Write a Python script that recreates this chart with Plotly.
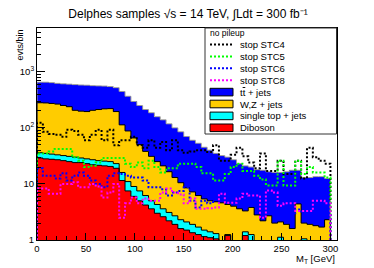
import numpy as np
import plotly.graph_objects as go

# ---------------- data (50 bins of 6 GeV, 0-300 GeV) ----------------
bin_edges = list(range(0, 301, 6))

ttbar_jets = [370, 372, 368, 355, 360, 362, 385, 382, 380, 360,
              348, 337, 325, 325, 332, 277, 229, 200, 174, 155,
              133, 118, 101.5, 87, 74.5, 61.5, 52.8, 46.8, 39.6, 35,
              30.2, 27.4, 25.7, 23, 19.4, 17.7, 16.2, 15.2, 15.3, 13.8,
              14, 13.9, 14.6, 15.9, 13.1, 11, 11.1, 11.7, 11.8, 10.2]
wz_jets = [244, 243, 238, 232, 218, 207, 175, 169, 167, 178,
           186, 192.5, 195, 172, 97, 77, 57, 42.5, 31.8, 26,
           20.7, 17.4, 13.4, 10.3, 8.2, 6.4, 5.3, 4.5, 3.9, 3.6,
           3.5, 3.7, 3.05, 3.2, 2.9, 1.9, 2.55, 2.0, 1.6, 2.0,
           1.4, 0.98, 1.3, 1.1, 3.7, 0.95, 1.4, 1.2, 1.2, 1.7]
single_top = [7, 7, 6.5, 6, 6, 6, 6, 5, 5, 5,
              4.5, 4.5, 4.5, 4, 4.5, 3.5, 3, 2.5, 2.0, 1.4,
              1.3, 1.0, 0.9, 0.8, 0.7, 0.6, 0.55, 0.45, 0.35, 0.3,
              0.25, 0.1, 0.05, 0.2, 0.2, 0.2, 0.75, 0.2, 0.1, 0.2,
              0.2, 0.62, 0.2, 0.1, 0.2, 0.65, 0.2, 0.2, 0.2, 0.2]
diboson = [29, 28, 27.5, 27, 26, 25, 24, 24, 23, 22,
           21.5, 21, 20.5, 19, 11.5, 7.5, 6, 5, 4.2, 3.6,
           3.0, 2.6, 2.2, 1.9, 1.6, 1.5, 1.35, 1.25, 1.15, 1.1,
           1.05, 0.8, 1.2, 0.6, 0.5, 1.2, 0.5, 0.6, 0.5, 0.5,
           0.4, 0.5, 0.4, 0.4, 0.5, 0.4, 0.3, 0.4, 0.3, 0.4]

stop_stc4 = [123, 85, 78, 75, 69, 92, 88, 75, 60, 75,
             92, 60, 92, 49, 60, 60, 69, 49, 44, 60,
             44, 56, 40, 60, 40, 36, 38, 40, 40, 37,
             49, 26, 26, 33, 44, 31, 24, 19, 35, 17,
             17, 26, 15, 15, 26, 12.5, 44, 30, 26, 23]
stop_stc5 = [35, 35, 38, 42, 42, 42, 30, 26, 20, 21,
             24, 29, 29, 29, 29, 23, 20, 24, 19, 26,
             20, 16, 19, 19, 23, 23, 23, 20, 15.5, 15.5,
             11.5, 11.5, 15, 20, 23, 17, 17, 14, 12, 9.4,
             9.4, 26, 9.4, 9.4, 26, 15, 20, 16, 16, 13]
stop_stc6 = [19, 14, 14, 12.5, 15.5, 11.5, 14, 16, 14, 11.5,
             10, 8.7, 14, 15.5, 15, 14, 13, 13, 11.5, 8.7,
             8.7, 8, 6.2, 7, 7.5, 8.7, 5, 3.8, 5, 4.5,
             6, 5, 6, 4.5, 5, 4, 5, 4, 4.5, 3.5,
             4, 3.5, 4, 3, 3.5, 3, 3.5, 3, 2.8, 3]
stop_stc8 = [8.3, 8.3, 6.7, 6.7, 10, 10, 10.7, 8.7, 8.7, 10,
             9, 5.7, 7, 10, 2.5, 4.5, 5.7, 4.5, 5.5, 5,
             5, 7, 8.3, 7, 6.5, 4.5, 5.5, 3.6, 3.6, 3.7,
             3.8, 6.7, 4.6, 4.6, 5.5, 6.7, 6.2, 6.2, 2.5, 7.6,
             7, 4.1, 4.5, 4.5, 3.3, 3.3, 3.3, 5, 5, 4.5]

signal_names = ["stop STC4", "stop STC5", "stop STC6", "stop STC8"]
bkg_names = ["t<span style='text-decoration:overline'>t</span> + jets",
             "W,Z + jets", "single top + jets", "Diboson"]

x_ticks = [0, 50, 100, 150, 200, 250, 300]
y_ticks = [1, 10, 100, 1000]
y_ticktext = ["1", "10", "10<sup>2</sup>", "10<sup>3</sup>"]

# ---------------- layout geometry ----------------
W, H = 374, 268
OFF = 8  # page body offset of the browser
PL, PR, PT, PB = 37, 337, 28, 240  # plot frame in screenshot pixels
FONT = "Liberation Sans, Arial, Helvetica, sans-serif"

def xp(px):
    return (px - PL) / (PR - PL)

def yp(py):
    return (PB - py) / (PB - PT)

centers = [(a + b) / 2 for a, b in zip(bin_edges[:-1], bin_edges[1:])]
widths = [b - a for a, b in zip(bin_edges[:-1], bin_edges[1:])]

cum_d = np.array(diboson, dtype=float)
cum_c = cum_d + np.array(single_top)
cum_o = cum_c + np.array(wz_jets)
cum_t = cum_o + np.array(ttbar_jets)

bkg_colors = ["#0000ff", "#ffcc00", "#00ffff", "#ff0000"]
sig_colors = ["#000000", "#00ff00", "#0000ff", "#ff00ff"]

fig = go.Figure()

for cum, col in zip([cum_t, cum_o, cum_c, cum_d], bkg_colors):
    fig.add_trace(go.Bar(x=centers, y=cum, width=widths,
                         marker=dict(color=col, line=dict(width=0)),
                         showlegend=False, hoverinfo="skip"))

def step(vals):
    xs = [bin_edges[0]] + bin_edges + [bin_edges[-1]]
    ys = [1e-3] + list(vals) + [vals[-1], 1e-3]
    return xs, ys

for cum, col in zip([cum_t, cum_o, cum_c, cum_d], ["#9a9a9a", "#000000", "#000000", "#000000"]):
    xs, ys = step(cum)
    fig.add_trace(go.Scatter(x=xs, y=ys, mode="lines", line=dict(color=col, width=1, shape="hv"),
                             showlegend=False, hoverinfo="skip"))

for vals, col in zip([stop_stc4, stop_stc5, stop_stc6, stop_stc8], sig_colors):
    xs, ys = step(vals)
    fig.add_trace(go.Scatter(x=xs, y=ys, mode="lines",
                             line=dict(color=col, width=2, shape="hv", dash="2px,2px"),
                             showlegend=False, hoverinfo="skip"))

# ---------------- custom ROOT-like legend ----------------
shapes = []
annotations = []
shapes.append(dict(type="rect", xref="paper", yref="paper",
                   x0=xp(205), x1=xp(336.5), y0=yp(134), y1=yp(28),
                   fillcolor="white", line=dict(color="#333333", width=1), layer="above"))
annotations.append(dict(text="no pileup", xref="paper", yref="paper", x=xp(207.5), y=yp(32.5),
                        xanchor="left", yanchor="middle", showarrow=False,
                        font=dict(family=FONT, size=8.5, color="black")))
row_y = [44.5 + 11.9 * i for i in range(8)]
for i, (name, col) in enumerate(zip(signal_names, sig_colors)):
    y = row_y[i]
    shapes.append(dict(type="line", xref="paper", yref="paper", x0=xp(210), x1=xp(233),
                       y0=yp(y), y1=yp(y), line=dict(color=col, width=2, dash="2px,2px"), layer="above"))
    annotations.append(dict(text=name, xref="paper", yref="paper", x=xp(238), y=yp(y),
                            xanchor="left", yanchor="middle", showarrow=False,
                            font=dict(family=FONT, size=9.5, color="black")))
for j, (name, col) in enumerate(zip(bkg_names, bkg_colors)):
    y = row_y[4 + j]
    shapes.append(dict(type="rect", xref="paper", yref="paper", x0=xp(210), x1=xp(233),
                       y0=yp(y + 3.8), y1=yp(y - 3.8), fillcolor=col,
                       line=dict(color="black", width=1), layer="above"))
    annotations.append(dict(text=name, xref="paper", yref="paper", x=xp(238), y=yp(y),
                            xanchor="left", yanchor="middle", showarrow=False,
                            font=dict(family=FONT, size=9.5, color="black")))

annotations.append(dict(text="evts/bin", xref="paper", yref="paper", x=xp(19), y=1.0,
                        xanchor="center", yanchor="top", textangle=-90, showarrow=False,
                        font=dict(family=FONT, size=9, color="black")))
annotations.append(dict(text="M<sub>T</sub> [GeV]", xref="paper", yref="paper", x=1.0, y=yp(259),
                        xanchor="right", yanchor="middle", showarrow=False,
                        font=dict(family=FONT, size=9.5, color="black")))

fig.update_layout(
    width=W, height=H,
    margin=dict(l=PL - OFF, r=W - (PR - OFF), t=PT - OFF, b=H - (PB - OFF), pad=0),
    paper_bgcolor="white", plot_bgcolor="white",
    barmode="overlay", bargap=0,
    showlegend=False,
    font=dict(family=FONT, size=9.5, color="black"),
    title=dict(text="Delphes samples \u221As = 14 TeV, \u222BLdt = 300 fb\u207B\u00B9",
               x=(188 - OFF) / W, xanchor="center", xref="container",
               y=1 - (14 - OFF) / H, yanchor="middle", yref="container",
               font=dict(family=FONT, size=12, color="black")),
    xaxis=dict(range=[0, 306.7], showgrid=False, zeroline=False,
               showline=True, linecolor="black", linewidth=1, mirror=True,
               ticks="inside", ticklen=7, tickcolor="black", tickwidth=1,
               tickvals=x_ticks, ticktext=[str(v) for v in x_ticks],
               tickfont=dict(family=FONT, size=9.5),
               minor=dict(ticks="inside", ticklen=4, dtick=10, tick0=0, tickcolor="black", showgrid=False)),
    yaxis=dict(type="log", range=[0, 3.78], showgrid=False, zeroline=False,
               showline=True, linecolor="black", linewidth=1, mirror=True,
               ticks="inside", ticklen=8, tickcolor="black", tickwidth=1,
               tickvals=y_ticks, ticktext=y_ticktext,
               tickfont=dict(family=FONT, size=9.5),
               minor=dict(ticks="inside", ticklen=4, tickcolor="black", showgrid=False,
                          tickvals=[m * 10 ** d for d in range(4) for m in range(2, 10) if m * 10 ** d < 6100])),
    shapes=shapes,
    annotations=annotations,
)

fig.write_html("out.html")
